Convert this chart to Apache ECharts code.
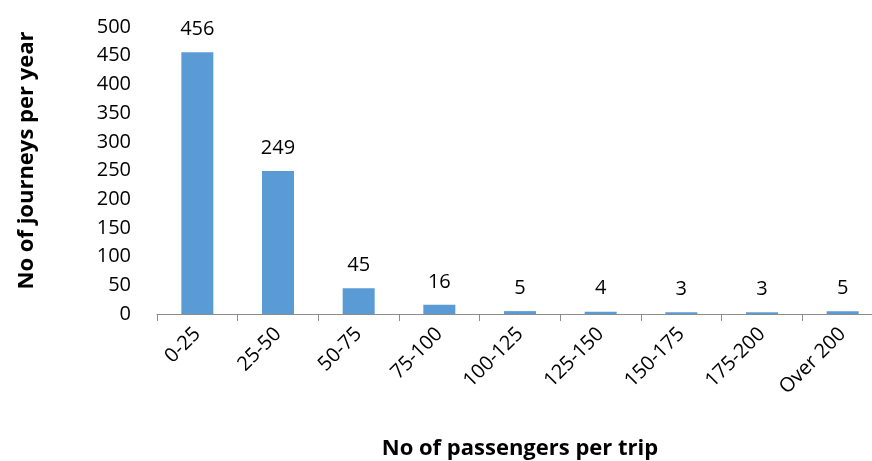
<!DOCTYPE html>
<html><head><meta charset="utf-8">
<script src="https://cdn.jsdelivr.net/npm/echarts@6/dist/echarts.min.js"></script>
<style>html,body{margin:0;padding:0;background:#fff}#c{width:872px;height:461px}</style>
</head><body><div id="c"></div>
<script>
var categories = ['0-25','25-50','50-75','75-100','100-125','125-150','150-175','175-200','Over 200'];
var journeys = [456, 249, 45, 16, 5, 4, 3, 3, 5];
var yTicks = {min: 0, max: 500, interval: 50};
var xTitle = 'No of passengers per trip';
var yTitle = 'No of journeys per year';

var FONT = 'Open Sans';
var chart = echarts.init(document.getElementById('c'), null, {renderer: 'canvas'});
chart.setOption({
  animation: false,
  grid: {left: 157, right: -11, top: 27, bottom: 147, containLabel: false, outerBoundsMode: 'none'},
  xAxis: {
    type: 'category', data: categories,
    axisLine: {lineStyle: {color: '#8c8c8c', width: 1}},
    axisTick: {show: true, alignWithLabel: false, length: 7, lineStyle: {color: '#8c8c8c'}},
    axisLabel: {rotate: 45, margin: 17, color: '#000', fontSize: 20, fontFamily: FONT, interval: 0},
    name: xTitle, nameLocation: 'middle', nameGap: 124,
    nameTextStyle: {fontSize: 22, fontWeight: 'bold', fontFamily: FONT, color: '#000'}
  },
  yAxis: {
    type: 'value', min: yTicks.min, max: yTicks.max, interval: yTicks.interval,
    axisLine: {show: false}, axisTick: {show: false}, splitLine: {show: false},
    axisLabel: {margin: 26, color: '#000', fontSize: 20, fontFamily: FONT},
    name: yTitle, nameLocation: 'middle', nameGap: 119,
    nameTextStyle: {fontSize: 22, fontWeight: 'bold', fontFamily: FONT, color: '#000', padding: [0, 0, 0, 20]}
  },
  series: [{
    type: 'bar', data: journeys, barWidth: 32,
    itemStyle: {color: '#5B9BD5'},
    label: {show: true, position: 'top', distance: 13, color: '#000', fontSize: 20, fontFamily: FONT}
  }]
});
</script></body></html>
